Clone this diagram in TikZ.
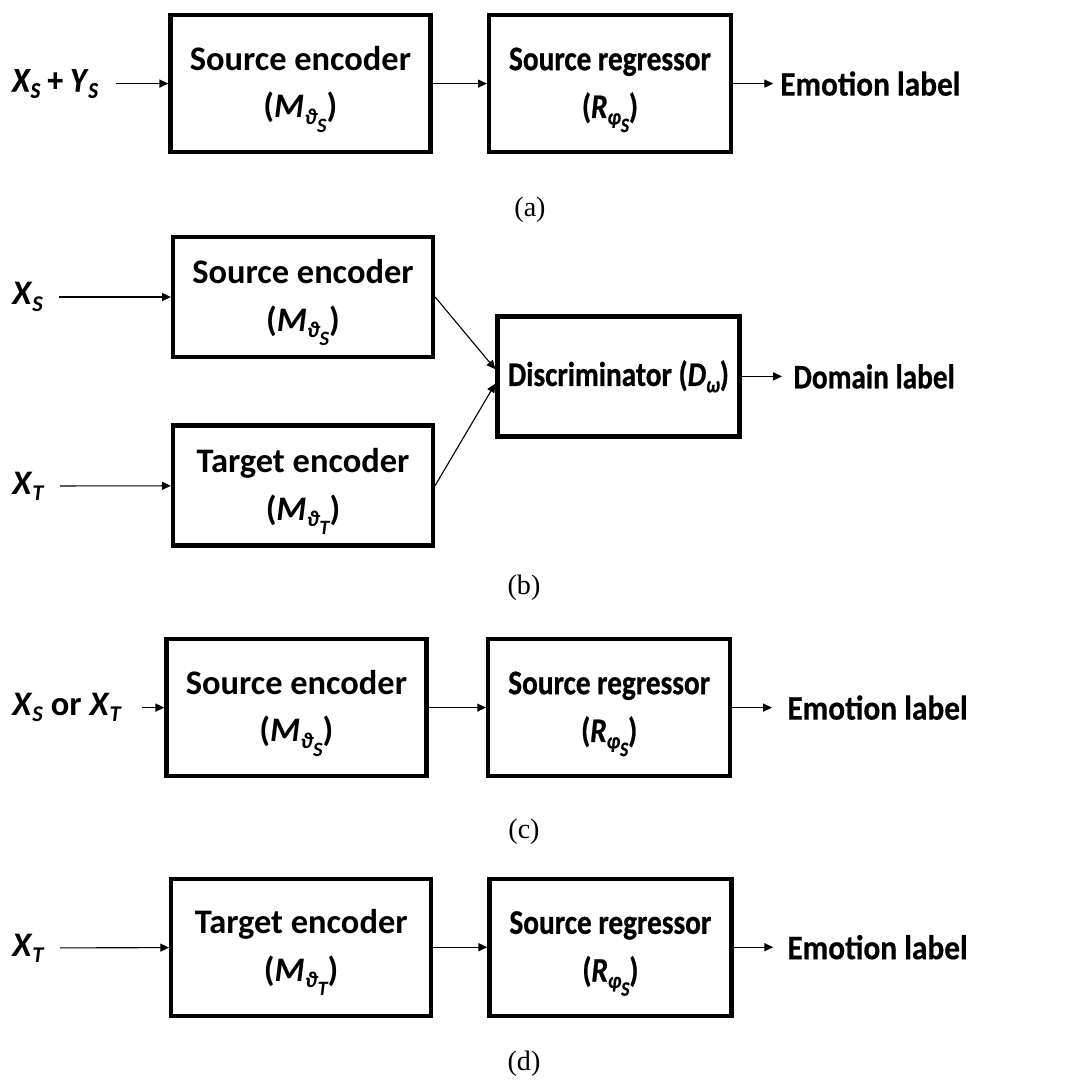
\documentclass[tikz,border=0pt]{standalone}
\usepackage{fontspec}
\setmainfont{Carlito}
\newfontfamily\narrowfont[FakeStretch=0.85,FakeBold=0.7,ItalicFont={Carlito Bold Italic},
  BoldFont={Carlito Bold},BoldItalicFont={Carlito Bold Italic}]{Carlito Bold}
\newfontfamily\midfont[FakeStretch=0.91,FakeBold=0.4,ItalicFont={Carlito Bold Italic},
  BoldFont={Carlito Bold},BoldItalicFont={Carlito Bold Italic}]{Carlito Bold}
\newfontfamily\capfont{Liberation Serif}
\usetikzlibrary{arrows.meta,positioning}
\newcommand{\boxfont}{\fontsize{24.5}{34}\selectfont\bfseries}
% subscripts, first and second level
\newcommand{\sbs}[1]{\raisebox{-4.5pt}{\fontsize{16}{16}\selectfont\textit{#1}}}
\newcommand{\ssbs}[1]{\raisebox{-5.5pt}{\fontsize{14.5}{14.5}\selectfont\textit{#1}}}
\newcommand{\toppad}{\rule{0pt}{25pt}}

\begin{document}
\begin{tikzpicture}[
  block/.style={draw,line width=3pt,minimum width=6.5cm,minimum height=3.42cm,
                align=center,inner sep=0pt,font=\boxfont},
  regbox/.style={block,minimum width=6.05cm,font=\boxfont\narrowfont},
  lbl/.style={inner sep=0pt,font=\boxfont},
  arr/.style={-{Triangle[length=0.22cm,width=0.2cm]},line width=0.8pt},
  sublbl/.style={font=\capfont\fontsize{20}{22}\selectfont}
]
\useasboundingbox (0,0) rectangle (26.9,-27.1);
% (a) training on source
\node[block] (enca) at (7.51,-2.09) {\toppad Source encoder\\(\textit{M}\sbs{ϑ\ssbs{S}})};
\node[regbox] (rega) at (15.25,-2.09) {\toppad Source regressor\\(\textit{R}\sbs{φ\ssbs{S}})};
\node[lbl,anchor=west,font=\boxfont\midfont] (ina) at (0.3,-2.09) {\textit{X}\sbs{S} + \textit{Y}\sbs{S}};
\node[lbl,anchor=west,font=\boxfont\midfont] (outa) at (19.5,-2.09) {Emotion label};
\draw[arr,shorten <=0.45cm] (ina) -- (enca);
\draw[arr] (enca) -- (rega);
\draw[arr,shorten >=0.17cm] (rega) -- (outa);
\node[sublbl] (capa) at (13.25,-5.25) {(a)};
% (b) adversarial adaptation
\node[block,minimum height=3.0cm] (sencb) at (7.575,-7.425) {\toppad Source encoder\\(\textit{M}\sbs{ϑ\ssbs{S}})};
\node[block,minimum height=3.0cm] (tencb) at (7.575,-12.14) {\toppad Target encoder\\(\textit{M}\sbs{ϑ\ssbs{T}})};
\node[regbox,minimum height=3.0cm] (discb) at (15.46,-9.41) {Discriminator (\textit{D}\sbs{ω})};
\node[lbl,anchor=west] (xsb) at (0.3,-7.425) {\textit{X}\sbs{S}};
\node[lbl,anchor=west] (xtb) at (0.3,-12.15) {\textit{X}\sbs{T}};
\node[lbl,anchor=west,font=\boxfont\narrowfont] (outb) at (19.83,-9.41) {Domain label};
\draw[arr,shorten <=0.38cm] (xsb) -- (sencb);
\draw[arr,shorten <=0.38cm] (xtb) -- (tencb);
\draw[arr] (sencb.east) -- ([yshift=0.18cm]discb.west);
\draw[arr] (tencb.east) -- ([yshift=-0.18cm]discb.west);
\draw[arr,shorten >=0.28cm] (discb) -- (outb);
\node[sublbl] (capb) at (13.1,-14.7) {(b)};
% (c) source model on either domain
\node[block] (encc) at (7.41,-17.69) {\toppad Source encoder\\(\textit{M}\sbs{ϑ\ssbs{S}})};
\node[regbox] (regc) at (15.23,-17.69) {\toppad Source regressor\\(\textit{R}\sbs{φ\ssbs{S}})};
\node[lbl,anchor=west] (inc) at (0.3,-17.69) {\textit{X}\sbs{S} or \textit{X}\sbs{T}};
\node[lbl,anchor=west,font=\boxfont\midfont] (outc) at (19.68,-17.69) {Emotion label};
\draw[arr,shorten <=0.5cm] (inc) -- (encc);
\draw[arr] (encc) -- (regc);
\draw[arr,shorten >=0.38cm] (regc) -- (outc);
\node[sublbl] (capc) at (13.1,-20.8) {(c)};
% (d) target encoder at test time
\node[block] (encd) at (7.53,-23.68) {\toppad Target encoder\\(\textit{M}\sbs{ϑ\ssbs{T}})};
\node[regbox] (regd) at (15.26,-23.68) {\toppad Source regressor\\(\textit{R}\sbs{φ\ssbs{S}})};
\node[lbl,anchor=west] (ind) at (0.3,-23.7) {\textit{X}\sbs{T}};
\node[lbl,anchor=west,font=\boxfont\midfont] (outd) at (19.68,-23.68) {Emotion label};
\draw[arr,shorten <=0.38cm] (ind) -- (encd);
\draw[arr] (encd) -- (regd);
\draw[arr,shorten >=0.35cm] (regd) -- (outd);
\node[sublbl] (capd) at (13.1,-26.6) {(d)};
\end{tikzpicture}
\end{document}
